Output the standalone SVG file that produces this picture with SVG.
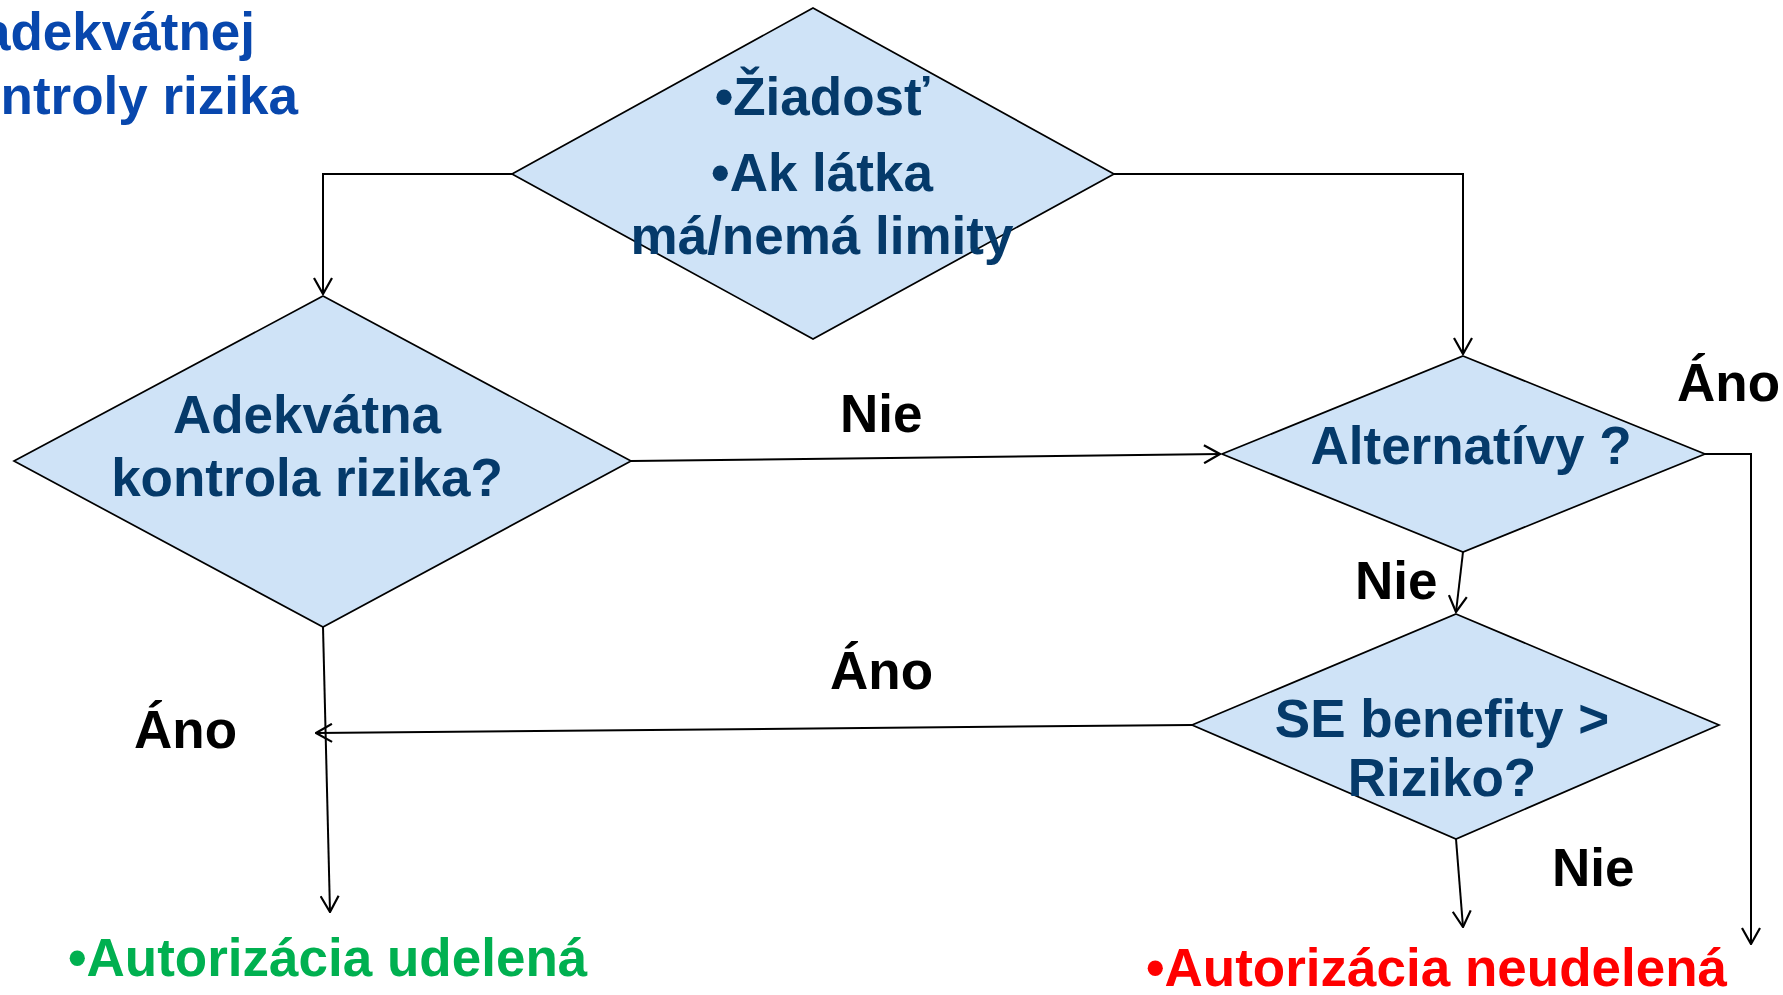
<svg xmlns="http://www.w3.org/2000/svg" width="1783" height="995" viewBox="0 0 1783 995">
<style>
.dia{fill:#CFE3F7;stroke:#000;stroke-width:1.7}
.nt{font-family:"Liberation Sans",Arial,sans-serif;font-weight:bold;font-size:53px;fill:#053A6A;text-anchor:middle}
.lb{font-family:"Liberation Sans",Arial,sans-serif;font-weight:bold;font-size:53px;fill:#000}
.ttl{font-family:"Liberation Sans",Arial,sans-serif;font-weight:bold;font-size:53px;fill:#0847AD;text-anchor:end}
.res{font-family:"Liberation Sans",Arial,sans-serif;font-weight:bold;font-size:53px}
.cn{fill:none;stroke:#000;stroke-width:2}
</style>
<defs>
<marker id="arr" viewBox="0 0 18 20" refX="17" refY="10" markerWidth="18" markerHeight="20" markerUnits="userSpaceOnUse" orient="auto">
<path d="M1,1 L17,10 L1,19" fill="none" stroke="#000" stroke-width="2.2"/>
</marker>
</defs>
<rect width="1783" height="995" fill="#fff"/>
<g id="title">
<text class="ttl" x="255" y="50">adekvátnej</text>
<text class="ttl" x="298" y="114">kontroly rizika</text>
</g>
<g id="connectors">
<polyline class="cn" points="512,174 323,174 323,294" marker-end="url(#arr)"/>
<polyline class="cn" points="1114,174 1463,174 1463,354" marker-end="url(#arr)"/>
<line class="cn" x1="631" y1="461" x2="1220" y2="454" marker-end="url(#arr)"/>
<line class="cn" x1="1463" y1="552" x2="1456" y2="612" marker-end="url(#arr)"/>
<polyline class="cn" points="1705,454 1751,454 1751,944" marker-end="url(#arr)"/>
<line class="cn" x1="1192" y1="725" x2="316" y2="733" marker-end="url(#arr)"/>
<line class="cn" x1="1456" y1="839" x2="1463" y2="927" marker-end="url(#arr)"/>
<line class="cn" x1="323" y1="627" x2="330" y2="912" marker-end="url(#arr)"/>
</g>
<g id="node-ziadost">
<polygon class="dia" points="813,8 1114,174 813,339 512,174"/>
<text class="nt" x="822" y="115">•Žiadosť</text>
<text class="nt" x="822" y="191">•Ak látka</text>
<text class="nt" x="822" y="254">má/nemá limity</text>
</g>
<g id="node-adekvatna">
<polygon class="dia" points="323,296 631,461 323,627 14,461"/>
<text class="nt" x="307" y="433">Adekvátna</text>
<text class="nt" x="307" y="496">kontrola rizika?</text>
</g>
<g id="node-alternativy">
<polygon class="dia" points="1463,356 1705,454 1463,552 1222,454"/>
<text class="nt" x="1471" y="464">Alternatívy ?</text>
</g>
<g id="node-se">
<polygon class="dia" points="1456,614 1719,725 1456,839 1192,725"/>
<text class="nt" x="1442" y="737">SE benefity &gt;</text>
<text class="nt" x="1442" y="796">Riziko?</text>
</g>
<g id="labels">
<text class="lb" x="840" y="432">Nie</text>
<text class="lb" x="1677" y="401">Áno</text>
<text class="lb" x="1355" y="599">Nie</text>
<text class="lb" x="830" y="689">Áno</text>
<text class="lb" x="134" y="748">Áno</text>
<text class="lb" x="1552" y="886">Nie</text>
</g>
<g id="node-udelena">
<text class="res" x="68" y="976" fill="#00B050">•Autorizácia udelená</text>
</g>
<g id="node-neudelena">
<text class="res" x="1146" y="986" fill="#FF0000">•Autorizácia neudelená</text>
</g>
</svg>
